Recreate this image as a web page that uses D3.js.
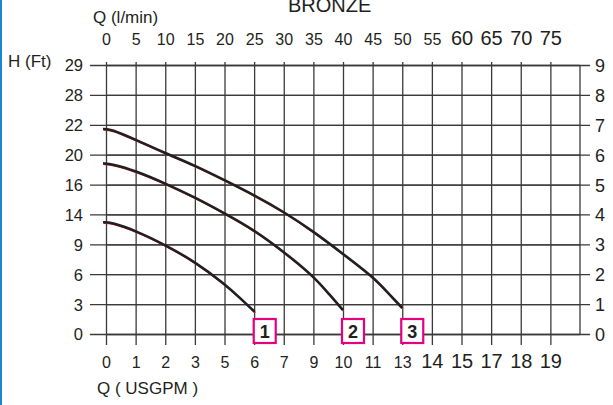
<!DOCTYPE html>
<html><head><meta charset="utf-8">
<script src="https://cdn.jsdelivr.net/npm/d3@7"></script>
<style>
html,body{margin:0;padding:0;background:#fff;}
svg{display:block;font-family:"Liberation Sans",Arial,sans-serif;}
</style></head>
<body>
<svg id="c" width="613" height="405"></svg>
<script>
// ---- data ----
const topTicks = [0,5,10,15,20,25,30,35,40,45,50,55,60,65,70,75];          // l/min
const bottomLabels = ["0","1","2","3","5","6","7","9","10","11","13","14","15","17","18","19"]; // USGPM
const leftLabels = ["0","3","6","9","14","16","20","22","28","29"];          // Ft
const rightTicks = [0,1,2,3,4,5,6,7,8,9];                                  // m
const curveNames = ["1","2","3"];
const curve1X = [-0.5,0.8,5,10,15,20,22.6,25.1];
const curve1Y = [3.74,3.74,3.46,2.98,2.42,1.68,1.21,0.74];
const curve2X = [-0.5,1.0,5,10,15,20,25,30,35,37.8,40];
const curve2Y = [5.71,5.69,5.46,5.04,4.57,4.04,3.48,2.75,1.94,1.30,0.80];
const curve3X = [-0.5,0.8,5,10,15,20,25,30,35,40,45,47.4,50];
const curve3Y = [6.86,6.86,6.50,6.05,5.64,5.15,4.65,4.09,3.43,2.68,1.92,1.42,0.87];

const svg = d3.select("#c");
const ink = "#231f20";
const x = d3.scaleLinear().domain([0,80]).range([106,580]);
const y = d3.scaleLinear().domain([0,9]).range([334,65]);

// blue left border
svg.append("rect").attr("x",0).attr("y",0).attr("width",2).attr("height",405).attr("fill","#1b86cf");

// title (cut off at top, as in the original)
svg.append("text").attr("x",288).attr("y",12).attr("font-size",20).attr("fill",ink).text("BRONZE");
svg.append("text").attr("x",93).attr("y",23).attr("font-size",17).attr("fill",ink).text("Q (l/min)");
svg.append("text").attr("x",8).attr("y",67).attr("font-size",17).attr("fill",ink).text("H (Ft)");
svg.append("text").attr("x",97).attr("y",394).attr("font-size",17).attr("fill",ink).text("Q ( USGPM )");

// left axis: horizontal grid lines from 90 to 580, labels on the left
const gL = svg.append("g").attr("transform","translate(580,0)")
  .call(d3.axisLeft(y).tickValues(rightTicks).tickSize(490).tickPadding(7)
    .tickFormat((d,i)=>leftLabels[i]));
// right axis: extension to 590 and metre labels
const gR = svg.append("g").attr("transform","translate(106,0)")
  .call(d3.axisRight(y).tickValues(rightTicks).tickSize(484).tickPadding(5)
    .tickFormat(d3.format("d")));
// bottom axis: vertical grid lines from 62 to 345, USGPM labels
const gB = svg.append("g").attr("transform","translate(0,62)")
  .call(d3.axisBottom(x).tickValues(topTicks).tickSize(283).tickPadding(6)
    .tickFormat((d,i)=>bottomLabels[i]));
// top axis: l/min labels
const gT = svg.append("g").attr("transform","translate(0,62)")
  .call(d3.axisTop(x).tickValues(topTicks).tickSize(0).tickPadding(17));

[gL,gR,gB,gT].forEach(g=>{
  g.select(".domain").remove();
  g.selectAll(".tick line").attr("stroke","#3a3a3a").attr("stroke-width",1.3);
  g.selectAll("text").attr("fill",ink).attr("font-family","'Liberation Sans',Arial,sans-serif");
});
gL.selectAll("text").attr("font-size",16.5).attr("dy","0.36em");
gR.selectAll("text").attr("font-size",18).attr("dy","0.36em");
gB.selectAll("text").attr("font-size",(d,i)=> i>=11 ? 20 : 16).attr("dy",null).attr("y",306);
gT.selectAll("text").attr("font-size",(d,i)=> i>=12 ? 20 : 16).attr("dy",null).attr("y",-17);

// last vertical grid line (no extensions)
svg.append("line").attr("x1",x(80)).attr("x2",x(80)).attr("y1",y(9)).attr("y2",y(0))
  .attr("stroke","#3a3a3a").attr("stroke-width",1.3);

// curves
const curves = [
  {name:curveNames[0], xs:curve1X, ys:curve1Y},
  {name:curveNames[1], xs:curve2X, ys:curve2Y},
  {name:curveNames[2], xs:curve3X, ys:curve3Y}
];
const line = d3.line().x(d=>x(d[0])).y(d=>y(d[1])).curve(d3.curveBasis);
curves.forEach(c=>{
  const pts = c.xs.map((v,i)=>[v,c.ys[i]]);
  svg.append("path").attr("d",line(pts)).attr("fill","none")
    .attr("stroke","#d8262c").attr("stroke-width",1.4).attr("transform","translate(0.6,1)");
  svg.append("path").attr("d",line(pts)).attr("fill","none")
    .attr("stroke",ink).attr("stroke-width",2.6);
  const endX = x(c.xs[c.xs.length-1]);
  const g = svg.append("g");
  g.append("rect").attr("x",endX-1).attr("y",319).attr("width",22).attr("height",24)
    .attr("fill","#fff").attr("stroke","#e5007e").attr("stroke-width",2.2);
  g.append("text").attr("x",endX+10).attr("y",338).attr("text-anchor","middle")
    .attr("font-size",18).attr("font-weight","bold").attr("fill",ink).text(c.name);
});
</script>
</body></html>
